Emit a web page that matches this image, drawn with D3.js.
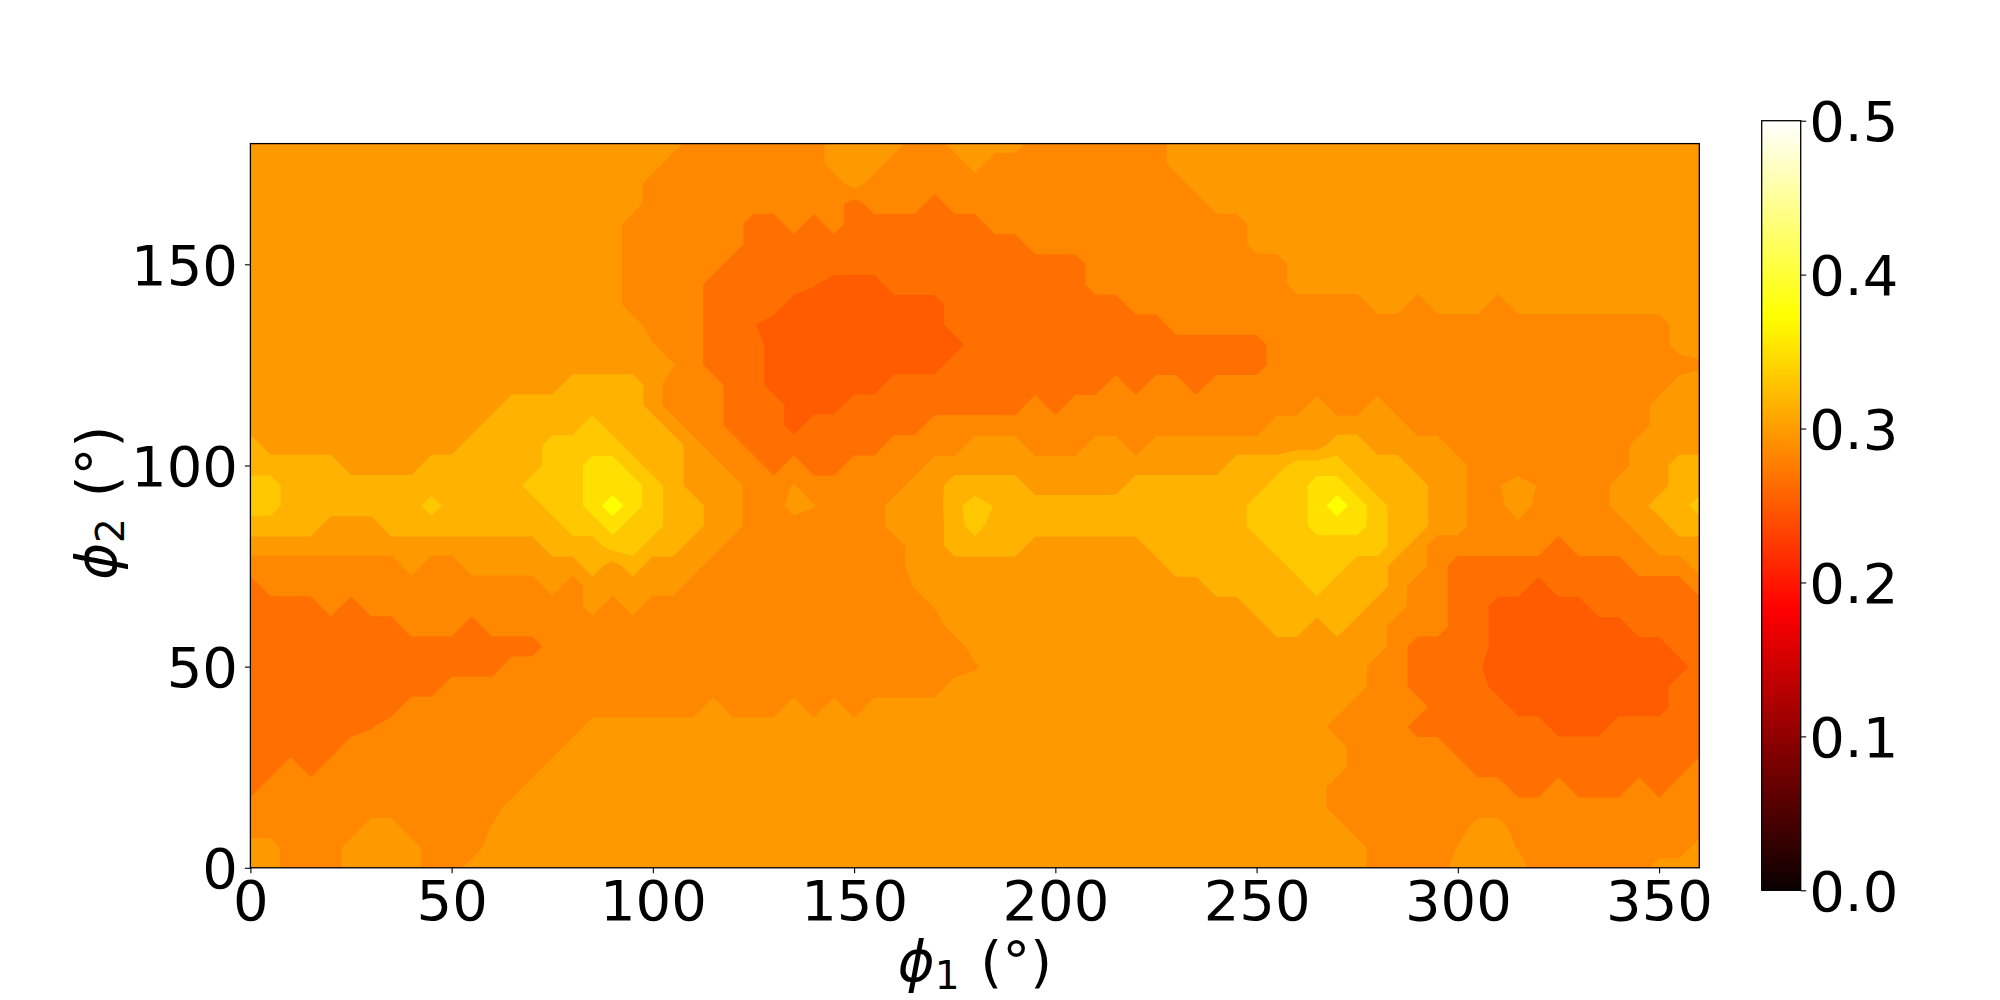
<!DOCTYPE html>
<html>
<head>
<meta charset="utf-8">
<title>phi map</title>
<script src="https://d3js.org/d3.v7.min.js"></script>
<style>
    html, body { margin: 0; padding: 0; background: #fff; }
    svg { display: block; }
    text { font-family: "DejaVu Sans"; fill: #000; }
    .tick text { font-size: 56px; }
</style>
</head>
<body>
<div id="chart"></div>
<script>
const phi1Ticks = [0, 50, 100, 150, 200, 250, 300, 350];
const phi2Ticks = [0, 50, 100, 150];
const barTicks = [0, 0.1, 0.2, 0.3, 0.4, 0.5];

// contourf bands: lower edge of each band and the colour it was drawn with
const bandLevels = [0, 0.258, 0.275, 0.292, 0.308, 0.325, 0.342, 0.358];
const bandColors = ["#ff5c00", "#ff7000", "#ff8800", "#ff9900", "#ffb300", "#ffc800", "#ffe000", "#ffff00"];

// hot colormap stops for the colorbar
const hotStops = [0, 0.365, 0.746, 1];
const hotColors = ["#0b0000", "#ff0000", "#ffff00", "#ffffff"];

// values, one row per phi2 from 180 down to 0 in 5 degree steps.
// each row is value, last phi1 with that value, value, last phi1 ...
const gridStep = 5;
const rowRuns = [
    [.3,105,.283,140,.3,160,.283,170,.3,190,.283,225,.3,360],
    [.3,100,.283,140,.3,155,.283,175,.3,180,.283,225,.3,360],
    [.3,95,.283,145,.3,150,.283,230,.3,360],
    [.3,95,.283,145,.267,150,.283,165,.267,170,.283,235,.3,360],
    [.3,90,.283,120,.267,130,.283,135,.267,140,.283,145,.267,180,.283,245,.3,360],
    [.3,90,.283,120,.267,190,.283,245,.3,360],
    [.3,90,.283,115,.267,205,.283,255,.3,360],
    [.3,90,.283,110,.267,135,.259,140,.25,155,.267,205,.283,255,.3,360],
    [.3,90,.283,110,.267,130,.25,170,.267,215,.283,275,.3,285,.283,290,.3,305,.283,310,.3,360],
    [.3,95,.283,110,.267,120,.259,125,.25,170,.267,225,.283,350,.3,360],
    [.3,95,.293,100,.283,110,.267,125,.25,175,.267,250,.283,350,.3,360],
    [.3,100,.293,105,.283,110,.267,125,.25,170,.267,250,.283,355,.289,360],
    [.3,75,.317,95,.3,100,.283,115,.267,125,.25,155,.267,210,.283,215,.267,220,.283,230,.267,235,.283,350,.3,360],
    [.3,60,.317,95,.3,100,.283,115,.267,130,.25,145,.267,190,.283,195,.267,200,.283,260,.3,265,.283,275,.3,280,.283,345,.3,360],
    [.3,55,.317,80,.333,85,.317,100,.3,105,.283,115,.267,130,.25,135,.267,165,.283,250,.3,285,.283,345,.3,360],
    [.317,0,.3,50,.317,70,.333,90,.317,105,.3,110,.283,120,.267,155,.283,175,.3,190,.283,205,.3,215,.283,220,.3,265,.317,275,.3,295,.283,340,.3,360],
    [.317,20,.3,40,.317,70,.333,80,.35,90,.333,95,.317,105,.3,115,.283,125,.267,130,.283,135,.267,145,.283,165,.3,240,.317,255,.333,270,.317,285,.3,300,.283,340,.3,350,.317,360],
    [.333,5,.317,65,.333,80,.35,95,.333,100,.317,105,.3,120,.283,130,.293,135,.283,160,.3,170,.317,190,.3,215,.317,250,.333,260,.35,270,.333,275,.317,290,.3,300,.283,305,.291,310,.3,315,.291,320,.283,335,.3,350,.317,360],
    [.333,5,.317,40,.333,45,.317,70,.333,80,.35,85,.367,90,.35,95,.333,100,.317,110,.3,120,.283,130,.3,135,.293,140,.283,155,.3,170,.32,175,.333,180,.324,185,.317,245,.333,260,.35,265,.367,270,.35,275,.333,280,.317,290,.3,300,.283,305,.288,310,.3,315,.288,320,.283,335,.3,345,.317,355,.333,360],
    [.317,15,.3,30,.317,75,.333,85,.35,90,.333,100,.317,110,.3,120,.283,155,.3,170,.317,175,.333,180,.317,245,.333,260,.35,275,.333,280,.317,290,.3,300,.283,310,.289,315,.283,340,.3,350,.317,360],
    [.3,70,.317,85,.333,95,.317,105,.3,115,.283,160,.3,170,.317,190,.3,220,.317,250,.333,280,.317,285,.3,290,.283,320,.267,325,.283,345,.3,360],
    [.283,35,.3,40,.283,50,.3,80,.317,85,.3,90,.317,95,.3,110,.283,160,.3,225,.317,255,.333,270,.317,280,.3,290,.283,295,.267,340,.283,355,.3,360],
    [.267,0,.283,70,.3,75,.283,80,.3,105,.283,160,.293,165,.3,235,.317,260,.333,265,.317,280,.3,285,.283,295,.267,315,.25,320,.267,355,.283,360],
    [.267,15,.283,20,.267,25,.283,80,.3,85,.283,90,.3,95,.283,165,.293,170,.3,245,.317,275,.3,285,.283,295,.267,305,.25,330,.267,360],
    [.267,35,.283,50,.267,55,.283,170,.3,250,.317,260,.3,265,.317,270,.3,280,.283,295,.267,305,.25,340,.267,360],
    [.267,70,.283,175,.3,280,.283,285,.267,305,.25,350,.267,360],
    [.267,60,.283,175,.29,180,.3,275,.283,285,.267,300,.26,305,.25,355,.267,360],
    [.267,45,.283,170,.3,275,.283,285,.267,305,.25,350,.267,360],
    [.267,35,.283,110,.3,115,.283,130,.3,135,.283,140,.3,145,.283,150,.3,270,.283,290,.267,310,.25,350,.267,360],
    [.267,25,.274,30,.283,80,.3,265,.283,285,.267,320,.25,335,.267,360],
    [.267,20,.283,75,.3,270,.283,295,.267,360],
    [.267,5,.283,10,.267,15,.283,70,.3,270,.283,300,.267,355,.283,360],
    [.267,0,.283,65,.3,265,.283,310,.267,320,.283,325,.267,340,.283,345,.267,350,.283,360],
    [.283,60,.3,265,.283,360],
    [.283,25,.3,35,.283,55,.293,60,.3,270,.283,300,.3,310,.283,360],
    [.3,5,.283,20,.3,40,.283,55,.3,275,.283,295,.293,300,.3,310,.291,315,.283,355,.3,360],
    [.3,5,.283,20,.3,40,.283,50,.3,275,.283,295,.3,315,.283,345,.3,360]
];

const width = 2000, height = 1000;
const plot = { left: 250.4, right: 1699.3, top: 143.6, bottom: 867.8 };
const bar = { left: 1761.7, right: 1800.7, top: 120.7, bottom: 890.3 };

const svg = d3.select("#chart").append("svg")
    .attr("width", width)
    .attr("height", height);

const x = d3.scaleLinear().domain([0, 360]).range([plot.left, plot.right]);
const y = d3.scaleLinear().domain([0, 180]).range([plot.bottom, plot.top]);
const barY = d3.scaleLinear().domain([0, 0.5]).range([bar.bottom, bar.top]);

// expand the runs into the flat grid d3.contours wants
const nCols = 360 / gridStep + 1;
const grid = [];
rowRuns.forEach(runs => {
    let phi = 0;
    for (let i = 0; i < runs.length; i += 2) {
        for (; phi <= runs[i + 1]; phi += gridStep) grid.push(runs[i]);
    }
});

const contours = d3.contours()
    .size([nCols, rowRuns.length])
    .thresholds(bandLevels)(grid);

// contour coordinates have the grid values at i + 0.5
const path = d3.geoPath(d3.geoTransform({
    point: function (cx, cy) {
        this.stream.point(x((cx - 0.5) * gridStep), y(180 - (cy - 0.5) * gridStep));
    }
}));

const defs = svg.append("defs");
defs.append("clipPath").attr("id", "plot-clip")
    .append("rect")
    .attr("x", plot.left).attr("y", plot.top)
    .attr("width", plot.right - plot.left)
    .attr("height", plot.bottom - plot.top);

svg.append("g").attr("clip-path", "url(#plot-clip)")
    .selectAll("path")
    .data(contours)
    .join("path")
    .attr("d", path)
    .attr("fill", (d, i) => bandColors[i]);

// frame
svg.append("rect")
    .attr("x", plot.left).attr("y", plot.top)
    .attr("width", plot.right - plot.left)
    .attr("height", plot.bottom - plot.top)
    .attr("fill", "none").attr("stroke", "#000").attr("stroke-width", 1.3);

const styleAxis = g => {
    g.select(".domain").remove();
    g.selectAll(".tick line").attr("stroke", "#000").attr("stroke-width", 1.1);
};

svg.append("g")
    .attr("transform", `translate(0,${plot.bottom})`)
    .call(d3.axisBottom(x).tickValues(phi1Ticks).tickSize(5.5).tickPadding(7).tickFormat(d3.format("d")))
    .call(styleAxis);

svg.append("g")
    .attr("transform", `translate(${plot.left},0)`)
    .call(d3.axisLeft(y).tickValues(phi2Ticks).tickSize(5.5).tickPadding(7).tickFormat(d3.format("d")))
    .call(styleAxis)
    .selectAll(".tick text").attr("dy", "0.36em");

// colorbar
const gradient = defs.append("linearGradient").attr("id", "hot")
    .attr("x1", 0).attr("x2", 0).attr("y1", 1).attr("y2", 0);
hotStops.forEach((s, i) => {
    gradient.append("stop").attr("offset", s).attr("stop-color", hotColors[i]);
});

svg.append("rect")
    .attr("x", bar.left).attr("y", bar.top)
    .attr("width", bar.right - bar.left)
    .attr("height", bar.bottom - bar.top)
    .attr("fill", "url(#hot)")
    .attr("stroke", "#000").attr("stroke-width", 1.3);

svg.append("g")
    .attr("transform", `translate(${bar.right},0)`)
    .call(d3.axisRight(barY).tickValues(barTicks).tickSize(5.5).tickPadding(3).tickFormat(d3.format(".1f")))
    .call(styleAxis)
    .selectAll(".tick text").attr("dy", "0.36em");

// axis labels, matplotlib mathtext style
const addLabel = (sel, sub) => {
    sel.attr("text-anchor", "middle").style("font-size", "56px");
    sel.append("tspan").attr("font-style", "italic").text("\u03d5");
    sel.append("tspan").attr("dy", 8).style("font-size", "39px").text(sub);
    sel.append("tspan").attr("dy", -8).attr("dx", 3).text(" (\u00b0)");
};

svg.append("text")
    .attr("x", (plot.left + plot.right) / 2)
    .attr("y", 981)
    .call(addLabel, "1");

svg.append("text")
    .attr("transform", `translate(116,${(plot.top + plot.bottom) / 2 - 3}) rotate(-90)`)
    .call(addLabel, "2");
</script>
</body>
</html>
